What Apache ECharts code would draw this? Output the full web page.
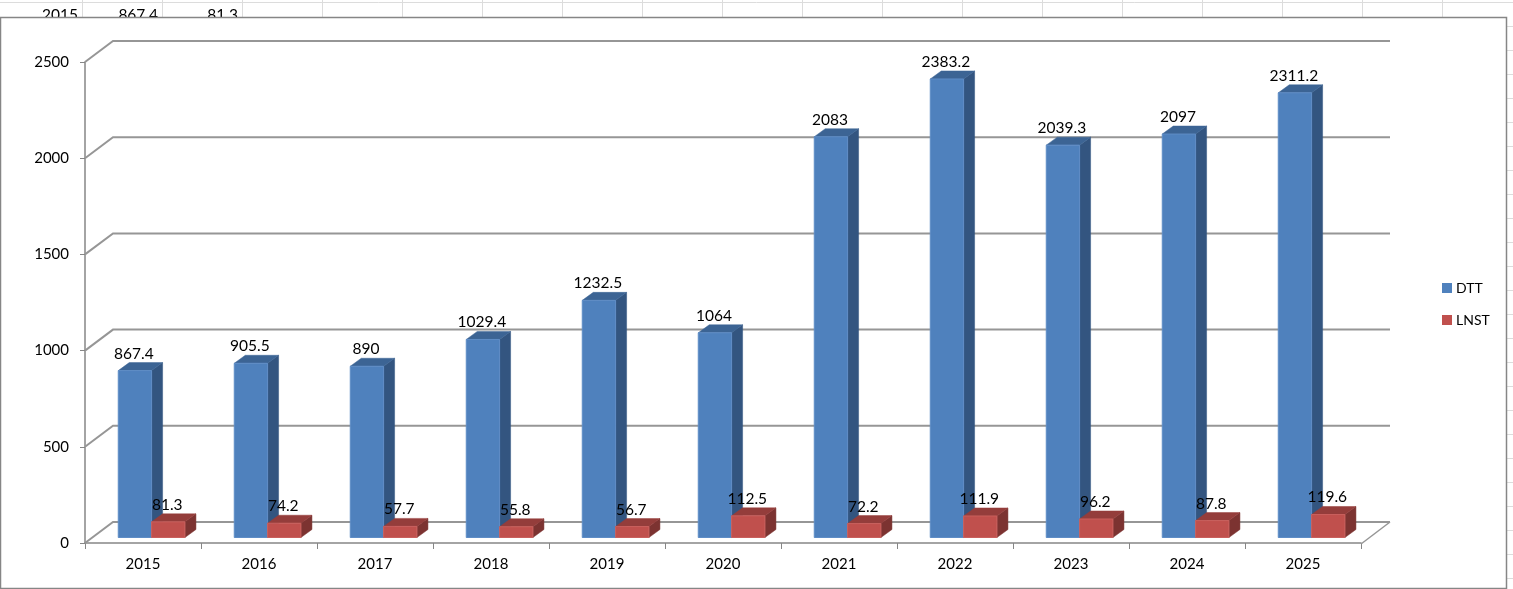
<!DOCTYPE html>
<html><head><meta charset="utf-8">
<style>html,body{margin:0;padding:0;background:#fff}#c{width:1513px;height:589px}</style>
<script src="https://cdn.jsdelivr.net/npm/echarts@6/dist/echarts.min.js"></script>
</head><body><div id="c"></div>
<script>
const categories = ['2015','2016','2017','2018','2019','2020','2021','2022','2023','2024','2025'];
const dtt = [867.4,905.5,890,1029.4,1232.5,1064,2083,2383.2,2039.3,2097,2311.2];
const lnst = [81.3,74.2,57.7,55.8,56.7,112.5,72.2,111.9,96.2,87.8,119.6];
const yTicks = [0,500,1000,1500,2000,2500];
const sheetRow = ['2015','867.4','81.3'];

const FONT = 'Lato';
const WALL = {dx:28, dy:-21};
const BAR = {dx:11, dy:-8, ox:8.6, oy:-5.5, frac:0.2875};

function poly(points, fill, stroke){
  return {type:'polygon', shape:{points}, style:{fill, stroke:stroke||fill, lineWidth:stroke?1:0.5}, silent:true};
}
function barRenderer(side, colors){
  return function(params, api){
    const idx = api.value(0), val = api.value(1);
    const base = api.coord([idx,0]), top = api.coord([idx,val]);
    const w = api.size([1,0])[0]*BAR.frac;
    const x0 = base[0]+BAR.ox+(side<0?-w:0), x1 = x0+w;
    const y0 = base[1]+BAR.oy, y1 = top[1]+BAR.oy;
    const dx=BAR.dx, dy=BAR.dy;
    return {type:'group', children:[
      poly([[x1,y1],[x1+dx,y1+dy],[x1+dx,y0+dy],[x1,y0]], colors.side),
      poly([[x0,y1],[x0+dx,y1+dy],[x1+dx,y1+dy],[x1,y1]], colors.top),
      poly([[x0,y0],[x0,y1],[x1,y1],[x1,y0]], colors.front, colors.edge),
      {type:'text', silent:true, z2:50, style:{
        text:String(val), x:(x0+x1)/2-1, y:y1-17, align:'center', verticalAlign:'middle',
        font:'15.5px '+FONT, fill:'#000'}}
    ]};
  };
}
function wallRenderer(params, api){
  const v = api.value(0), c = api.coord([0,v]);
  const cs = params.coordSys;
  const xl = cs.x, xr = cs.x+cs.width, y=c[1];
  const children = [{type:'polyline', silent:true,
    shape:{points:[[xl,y],[xl+WALL.dx,y+WALL.dy],[xr+WALL.dx+1,y+WALL.dy]]},
    style:{fill:null, stroke:'#969696', lineWidth:2}}];
  if(v===0) children.push({type:'line', silent:true,
    shape:{x1:xr,y1:y+1,x2:xr+WALL.dx+1,y2:y+WALL.dy},
    style:{stroke:'#969696', lineWidth:1.5}});
  return {type:'group', children};
}

const bg = [];
for(let x=82;x<1513;x+=80) bg.push({type:'line',z:-5,silent:true,shape:{x1:x+.5,y1:0,x2:x+.5,y2:18},style:{stroke:'#dcdcdc',lineWidth:1}});
bg.push({type:'line',z:-5,silent:true,shape:{x1:0,y1:2.5,x2:1513,y2:2.5},style:{stroke:'#dcdcdc',lineWidth:1}});
for(let y=26;y<589;y+=24) bg.push({type:'line',z:-5,silent:true,shape:{x1:1507,y1:y+.5,x2:1513,y2:y+.5},style:{stroke:'#dcdcdc',lineWidth:1}});
[78,158,238].forEach((x,i)=>bg.push({type:'text',z:-4,silent:true,style:{text:sheetRow[i],x:x,y:15,align:'right',verticalAlign:'middle',font:'15.5px '+FONT,fill:'#000'}}));
bg.push({type:'rect',z:-3,silent:true,shape:{x:0.5,y:17.5,width:1506,height:571},style:{fill:'#fff',stroke:'#868686',lineWidth:1.5}});

const chart = echarts.init(document.getElementById('c'),null,{renderer:'canvas'});
chart.setOption({
  animation:false,
  backgroundColor:'#fff',
  graphic:{elements:bg},
  grid:{left:85,top:62,width:1276,height:481,containLabel:false},
  legend:{orient:'vertical',left:1442,top:281,padding:0,itemWidth:10,itemHeight:10,itemGap:18,icon:'rect',
    selectedMode:false,data:['DTT','LNST'],
    textStyle:{fontFamily:FONT,fontSize:14,color:'#000',padding:[0,0,0,-1]}},
  xAxis:{type:'category',data:categories,boundaryGap:true,
    axisLine:{lineStyle:{color:'#868686',width:1.5}},
    axisTick:{show:true,alignWithLabel:false,length:6,lineStyle:{color:'#868686'}},
    axisLabel:{fontFamily:FONT,fontSize:15,color:'#000',margin:14},
    splitLine:{show:false}},
  yAxis:{type:'value',min:0,max:2500,interval:500,
    axisLine:{show:true,lineStyle:{color:'#868686',width:1.5}},
    axisTick:{show:true,length:5,lineStyle:{color:'#868686'}},
    axisLabel:{fontFamily:FONT,fontSize:15,color:'#000',margin:16,formatter:v=>String(v)},
    splitLine:{show:false}},
  series:[
    {type:'custom',name:'wall',coordinateSystem:'cartesian2d',z:1,silent:true,clip:false,
     data:yTicks.map(v=>[v]),encode:{y:0},renderItem:wallRenderer,tooltip:{show:false}},
    {type:'custom',name:'DTT',coordinateSystem:'cartesian2d',z:3,clip:false,
     itemStyle:{color:'#4f81bd'},encode:{x:0,y:1},
     data:dtt.map((v,i)=>[i,v]),
     renderItem:barRenderer(-1,{front:'#4f81bd',edge:'#5f8dc6',top:'#3c6494',side:'#335580'})},
    {type:'custom',name:'LNST',coordinateSystem:'cartesian2d',z:4,clip:false,
     itemStyle:{color:'#c0504d'},encode:{x:0,y:1},
     data:lnst.map((v,i)=>[i,v]),
     renderItem:barRenderer(1,{front:'#c0504d',edge:'#c9605d',top:'#943d3b',side:'#7c3331'})}
  ]
});
</script></body></html>
